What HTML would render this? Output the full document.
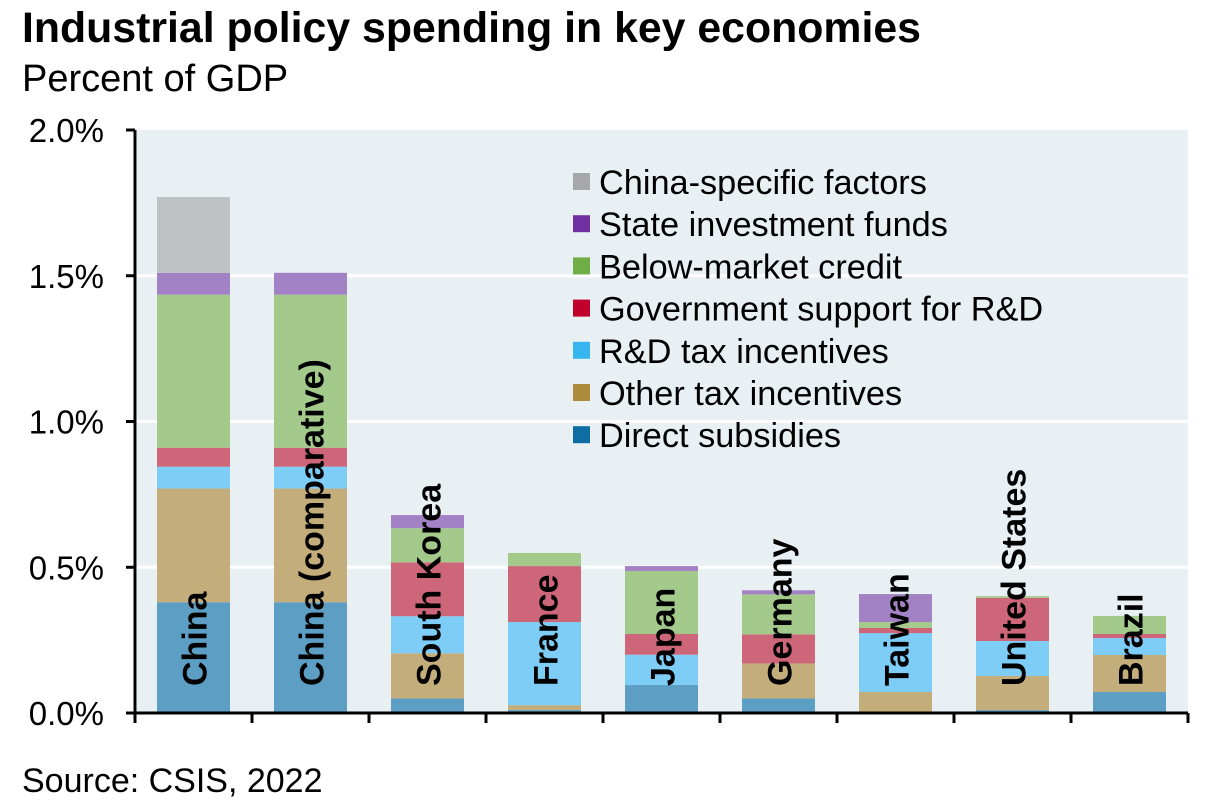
<!DOCTYPE html>
<html><head><meta charset="utf-8">
<style>
html,body{margin:0;padding:0;background:#fff;}
svg{display:block;font-family:"Liberation Sans",Arial,sans-serif;}
</style></head>
<body>
<svg id="chart" width="1216" height="812" viewBox="0 0 1216 812" xmlns="http://www.w3.org/2000/svg">
<text x="22" y="42" font-size="42.8" font-weight="bold" fill="#000">Industrial policy spending in key economies</text>
<text x="22" y="91" font-size="38" fill="#000">Percent of GDP</text>
<rect x="137" y="130" width="1051" height="583" fill="#e8f0f4"/>
<g id="grid"></g>
<g id="bars"></g>
<g id="labels"></g>
<g id="axes"></g>
<g id="legend"></g>
<text x="22" y="792" font-size="34" fill="#000">Source: CSIS, 2022</text>
</svg>
<script>
const categories = ["China","China (comparative)","South Korea","France","Japan","Germany","Taiwan","United States","Brazil"];
const seriesNames = ["Direct subsidies","Other tax incentives","R&D tax incentives","Government support for R&D","Below-market credit","State investment funds","China-specific factors"];
const directSubsidies = [0.38,0.38,0.05,0.01,0.096,0.05,0,0.01,0.072];
const otherTax = [0.39,0.39,0.155,0.017,0,0.12,0.072,0.117,0.127];
const rdTax = [0.075,0.075,0.127,0.285,0.104,0,0.202,0.12,0.058];
const govRD = [0.065,0.065,0.185,0.192,0.071,0.1,0.018,0.148,0.014];
const credit = [0.525,0.525,0.117,0.045,0.216,0.137,0.02,0.006,0.062];
const stateFunds = [0.075,0.075,0.045,0,0.017,0.014,0.096,0,0];
const chinaSpecific = [0.26,0,0,0,0,0,0,0,0];
const yTicks = [0,0.5,1.0,1.5,2.0];
const yTickLabels = ["0.0%","0.5%","1.0%","1.5%","2.0%"];

const series = [directSubsidies,otherTax,rdTax,govRD,credit,stateFunds,chinaSpecific];
const barColors = ["#5d9fc4","#c3ad7a","#7dcdf7","#cd6679","#a3ca8b","#a281c4","#bfc2c3"];
const legendColors = ["#0e6ea3","#ad8d3d","#36b5ef","#c0002a","#6fad46","#7030a0","#a6a8aa"];
const NS="http://www.w3.org/2000/svg";
const X0=135,X1=1188,Y0=713,YTOP=130,YMAX=2.0;
const slot=(X1-X0)/categories.length, bw=73;
function y(v){return Y0-(v/YMAX)*(Y0-YTOP);}
function xc(i){return X0+slot*i+slot/2;}
function mk(tag,attrs,parent){const e=document.createElementNS(NS,tag);for(const k in attrs)e.setAttribute(k,attrs[k]);parent.appendChild(e);return e;}
const grid=document.getElementById('grid'),bars=document.getElementById('bars'),labels=document.getElementById('labels'),axes=document.getElementById('axes'),legend=document.getElementById('legend');
yTicks.forEach((t,i)=>{
  if(t>0&&t<YMAX){const g=mk('line',{x1:137,x2:X1,y1:y(t),y2:y(t),stroke:'#fff','stroke-width':3},grid);
  
  }
  const tk=mk('line',{x1:126,x2:135,y1:y(t),y2:y(t),stroke:'#000','stroke-width':3},axes);
  
  
  const tl=mk('text',{x:104,y:y(t)+12,'font-size':33,'text-anchor':'end',fill:'#000'},axes);
  tl.textContent=yTickLabels[i];
  
  
});
categories.forEach((c,i)=>{
  let cum=0;
  series.forEach((s,j)=>{
    const v=s[i]; if(v<=0) return;
    const r=mk('rect',{x:xc(i)-bw/2,y:y(cum+v),width:bw,height:y(cum)-y(cum+v),fill:barColors[j]},bars);
    
    
    cum+=v;
  });
  const t=mk('text',{transform:`translate(${xc(i)+13},686) rotate(-90)`,'font-size':34,'font-weight':'bold',fill:'#000'},labels);
  t.textContent=c;
  
  
});
const ya=mk('line',{x1:X0,x2:X0,y1:YTOP,y2:Y0+1.5,stroke:'#000','stroke-width':3},axes);


const xa=mk('line',{x1:X0-1.5,x2:X1,y1:Y0,y2:Y0,stroke:'#000','stroke-width':3},axes);


for(let i=0;i<=categories.length;i++){
  const tk=mk('line',{x1:X0+slot*i,x2:X0+slot*i,y1:Y0,y2:Y0+10,stroke:'#000','stroke-width':3},axes);
  
  
}
for(let k=0;k<seriesNames.length;k++){
  const j=seriesNames.length-1-k, ly=182+k*42.2;
  const sq=mk('rect',{x:573,y:ly-9,width:17,height:17,fill:legendColors[j]},legend);
  
  
  const lt=mk('text',{x:599,y:ly+12,'font-size':34.3,fill:'#000'},legend);
  lt.textContent=seriesNames[j];
  
  
}
</script>
</body></html>
